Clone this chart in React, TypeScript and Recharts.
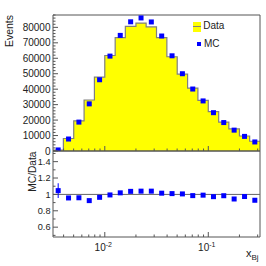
import { ComposedChart, Area, Scatter, XAxis, YAxis, ReferenceArea, ReferenceLine, ErrorBar, Legend } from 'recharts';

// log-spaced bins in x_Bj (edges), 20 bins
const binEdges = [
  0.00316, 0.00398, 0.00501, 0.00631, 0.00794, 0.01, 0.0126, 0.0158, 0.02, 0.0251, 0.0316,
  0.0398, 0.0501, 0.0631, 0.0794, 0.1, 0.126, 0.158, 0.2, 0.251, 0.316,
];
const dataCounts = [
  650, 8100, 19500, 33000, 47800, 61800, 73400, 80600, 82800, 80300,
  73300, 61000, 49700, 40700, 32700, 25500, 18700, 14300, 9700, 6300,
];
const mcCounts = [
  680, 7750, 18700, 30500, 46100, 61400, 74800, 83600, 86100, 83500,
  74400, 61600, 50000, 40100, 32400, 24800, 18400, 13500, 9450, 5850,
];
const ratioErrors = [
  0.09, 0.02, 0.012, 0.01, 0.008, 0.007, 0.006, 0.006, 0.006, 0.006,
  0.006, 0.007, 0.008, 0.009, 0.01, 0.011, 0.013, 0.015, 0.018, 0.022,
];
const eventTickLabels = [0, 10000, 20000, 30000, 40000, 50000, 60000, 70000, 80000];
const ratioTickLabels = [0.6, 0.8, 1, 1.2, 1.4];

const X_MIN = binEdges[0];
const X_MAX = binEdges[binEdges.length - 1];
const Y_MAX = 88000;
const R_MIN = 0.48;
const R_MAX = 1.53;

const FONT = "'Liberation Sans', Arial, Helvetica, sans-serif";
const AXIS = '#555';
const TEXT = '#222';

const histData = binEdges.map((x, i) => ({ x, y: dataCounts[Math.min(i, dataCounts.length - 1)] }));
const mcData = dataCounts.map((_, i) => ({ x: Math.sqrt(binEdges[i] * binEdges[i + 1]), y: mcCounts[i] }));
const ratioData = dataCounts.map((d, i) => ({
  x: Math.sqrt(binEdges[i] * binEdges[i + 1]),
  y: mcCounts[i] / d,
  err: ratioErrors[i],
}));

// tick positions (majors + minors)
const xTicks: number[] = [];
[0.001, 0.01, 0.1].forEach((dec) => {
  for (let m = 1; m <= 9; m++) {
    const v = +(m * dec).toPrecision(3);
    if (v >= X_MIN && v <= X_MAX) xTicks.push(v);
  }
});
const eventTicks: number[] = [];
for (let v = 0; v <= Y_MAX; v += 2000) eventTicks.push(v);
const ratioTicks: number[] = [];
for (let v = 5; v <= 15; v++) ratioTicks.push(v / 10);

const isDecade = (v: number) => Math.abs(Math.log10(v) - Math.round(Math.log10(v))) < 1e-6;

function UpperXTick({ x, y, payload }: any) {
  const major = isDecade(payload.value);
  return <line x1={x} x2={x} y1={y} y2={y - (major ? 5 : 2.5)} stroke={AXIS} />;
}

function LowerXTick({ x, y, payload }: any) {
  const v = payload.value;
  const major = isDecade(v);
  return (
    <g>
      <line x1={x} x2={x} y1={y} y2={y - (major ? 5 : 2.5)} stroke={AXIS} />
      {major && (
        <text x={x - 1.5} y={y + 13.5} textAnchor="middle" fontSize={10} fill={TEXT} fontFamily={FONT}>
          10<tspan fontSize={7} dy={-4}>{Math.round(Math.log10(v))}</tspan>
        </text>
      )}
    </g>
  );
}

function EventsYTick({ x, y, payload }: any) {
  const v = payload.value;
  const major = eventTickLabels.includes(v);
  return (
    <g>
      <line x1={x} x2={x + (major ? 5 : 2.5)} y1={y} y2={y} stroke={AXIS} />
      {major && (
        <text x={x - 2.5} y={y} dy={3.6} textAnchor="end" fontSize={10} fill={TEXT} fontFamily={FONT}>
          {v}
        </text>
      )}
    </g>
  );
}

function RatioYTick({ x, y, payload }: any) {
  const v = payload.value;
  const major = ratioTickLabels.some((t) => Math.abs(t - v) < 1e-6);
  return (
    <g>
      <line x1={x} x2={x + (major ? 5 : 2.5)} y1={y} y2={y} stroke={AXIS} />
      {major && (
        <text x={x - 2.5} y={y} dy={3.3} textAnchor="end" fontSize={9.2} fill={TEXT} fontFamily={FONT}>
          {v === 1 ? '1' : v.toFixed(1)}
        </text>
      )}
    </g>
  );
}

const EventsTitle = () => (
  <text transform="translate(12.5,15) rotate(-90)" textAnchor="end" fontSize={10.5} fill={TEXT} fontFamily={FONT}>
    Events
  </text>
);

const RatioTitle = () => (
  <text transform="translate(35.8,151.5) rotate(-90)" textAnchor="end" fontSize={10.2} fill={TEXT} fontFamily={FONT}>
    MC/Data
  </text>
);

const XTitle = () => (
  <text x={246} y={256.5} fontSize={11} fill={TEXT} fontFamily={FONT}>
    x<tspan fontSize={8} dy={3}>Bj</tspan>
  </text>
);

const SquareMarker = (props: any) => (
  <rect x={props.cx - 2.5} y={props.cy - 2.5} width={5} height={5} fill="#0000ff" />
);

const LegendBox = () => (
  <div style={{ position: 'relative', width: 50, height: 32, fontFamily: FONT, fontSize: 10, color: TEXT }}>
    <div style={{ position: 'absolute', left: 3.3, top: 3.7, width: 7.7, height: 10, background: '#ffff00' }}>
      <div style={{ position: 'absolute', left: 0, top: 4.4, width: 7.7, height: 1.2, background: '#808080' }} />
    </div>
    <span style={{ position: 'absolute', left: 13.3, top: 3, lineHeight: '10px' }}>Data</span>
    <div style={{ position: 'absolute', left: 7.2, top: 23.8, width: 4, height: 4, background: '#0000ff' }} />
    <span style={{ position: 'absolute', left: 14, top: 20.5, lineHeight: '10px' }}>MC</span>
  </div>
);

export default function App() {
  return (
    <div style={{ position: 'absolute', left: 0, top: 0, width: 266, height: 266, background: '#fff' }}>
      <div style={{ position: 'absolute', left: 0, top: 0 }}>
        <ComposedChart width={266} height={266} margin={{ top: 15, right: 6, bottom: 114, left: 52 }}>
          <XAxis
            dataKey="x"
            type="number"
            scale="log"
            domain={[X_MIN, X_MAX]}
            allowDataOverflow
            ticks={xTicks}
            interval={0}
            height={1}
            tickSize={0}
            tickMargin={0}
            axisLine={false}
            tickLine={false}
            tick={(p: any) => <UpperXTick {...p} />}
          />
          <YAxis
            dataKey="y"
            type="number"
            domain={[0, Y_MAX]}
            allowDataOverflow
            ticks={eventTicks}
            interval={0}
            width={1}
            tickSize={0}
            tickMargin={0}
            axisLine={false}
            tickLine={false}
            tick={(p: any) => <EventsYTick {...p} />}
            label={<EventsTitle />}
          />
          <Area
            data={histData}
            dataKey="y"
            type="stepAfter"
            fill="#ffff00"
            fillOpacity={1}
            stroke="#808080"
            strokeWidth={1.2}
            dot={false}
            activeDot={false}
            isAnimationActive={false}
          />
          <Scatter data={mcData} dataKey="y" shape={SquareMarker} isAnimationActive={false} />
          <ReferenceArea x1={X_MIN} x2={X_MAX} y1={0} y2={Y_MAX} fill="none" stroke={AXIS} strokeWidth={1} ifOverflow="visible" />
          <Legend
            layout="vertical"
            align="center"
            verticalAlign="middle"
            wrapperStyle={{ left: 190, top: 18, width: 50, height: 32 }}
            content={() => <LegendBox />}
          />
        </ComposedChart>
      </div>
      <div style={{ position: 'absolute', left: 0, top: 0 }}>
        <ComposedChart width={266} height={266} margin={{ top: 151, right: 6, bottom: 28, left: 52 }}>
          <XAxis
            dataKey="x"
            type="number"
            scale="log"
            domain={[X_MIN, X_MAX]}
            allowDataOverflow
            ticks={xTicks}
            interval={0}
            height={1}
            tickSize={0}
            tickMargin={0}
            axisLine={false}
            tickLine={false}
            tick={(p: any) => <LowerXTick {...p} />}
            label={<XTitle />}
          />
          <YAxis
            dataKey="y"
            type="number"
            domain={[R_MIN, R_MAX]}
            allowDataOverflow
            ticks={ratioTicks}
            interval={0}
            width={1}
            tickSize={0}
            tickMargin={0}
            axisLine={false}
            tickLine={false}
            tick={(p: any) => <RatioYTick {...p} />}
            label={<RatioTitle />}
          />
          <ReferenceLine y={1} stroke="#666" strokeWidth={1} />
          <Scatter data={ratioData} dataKey="y" shape={SquareMarker} isAnimationActive={false}>
            <ErrorBar dataKey="err" direction="y" width={0} stroke="#0000ff" strokeWidth={1} isAnimationActive={false} />
          </Scatter>
          <ReferenceArea x1={X_MIN} x2={X_MAX} y1={R_MIN} y2={R_MAX} fill="none" stroke={AXIS} strokeWidth={1} ifOverflow="visible" />
        </ComposedChart>
      </div>
    </div>
  );
}
